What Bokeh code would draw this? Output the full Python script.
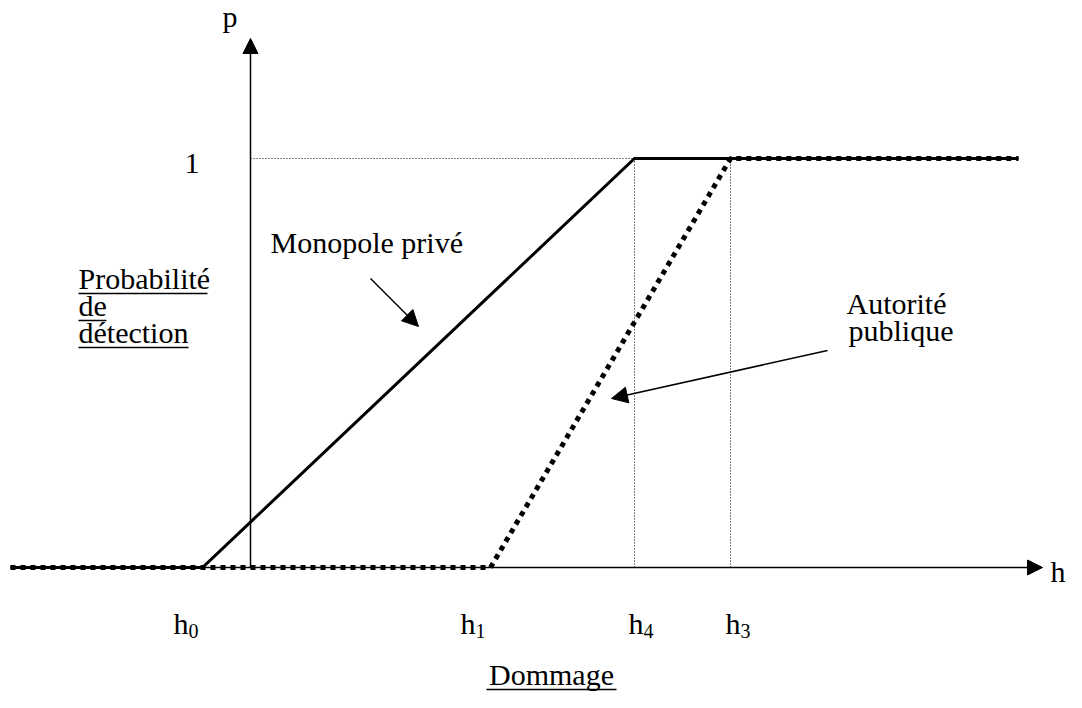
from bokeh.plotting import figure
from bokeh.models import Range1d, Arrow, NormalHead
from bokeh.embed import file_html
from bokeh.resources import INLINE
from bokeh.core.properties import value

# ---------------- data (schematic units: h along x, p along y) ----------------
h_names = ["h", "h", "h", "h"]
h_subs = ["0", "1", "4", "3"]
h0, h1, h4, h3 = -0.48, 2.40, 3.84, 4.80
h_min, h_max = -2.40, 7.68
monopole_h = [h_min, h0, h4, h_max]
monopole_p = [0.0, 0.0, 1.0, 1.0]
autorite_h = [h_min, h1, h3, h_max]
autorite_p = [0.0, 0.0, 1.0, 1.0]
y_label_lines = ["Probabilité", "de", "détection"]
autorite_lines = ["Autorité", "publique"]

# ---------------- layout helpers (reference pixel -> data) ----------------
W, H = 1066, 692
PX0, PY0 = 250.0, 567.0     # pixel position of origin
SX, SY = 100.0, 409.0       # pixels per unit


def X(px):
    return (px - PX0) / SX


def Y(py):
    return (PY0 - py) / SY


FONT = value("Liberation Serif")

p = figure(width=W, height=H, output_backend="svg", toolbar_location=None,
           x_range=Range1d(X(0), X(W)), y_range=Range1d(Y(H), Y(0)),
           x_axis_type=None, y_axis_type=None, min_border=0)
p.outline_line_color = None
p.grid.visible = False
p.background_fill_color = "white"
p.border_fill_color = "white"

# guide lines
p.line([0, h4], [1, 1], line_color="black", line_width=1, line_dash="1 2")
p.line([h4, h4], [0, 1], line_color="black", line_width=1, line_dash="1 2")
p.line([h3, h3], [0, 1], line_color="black", line_width=1, line_dash="1 2")

# axes with arrows
p.add_layout(Arrow(end=NormalHead(size=15, fill_color="black", line_color="black"),
                   x_start=h_min, y_start=0, x_end=X(1042), y_end=0,
                   line_width=1.5, line_color="black"))
p.add_layout(Arrow(end=NormalHead(size=15, fill_color="black", line_color="black"),
                   x_start=0, y_start=0, x_end=0, y_end=Y(38),
                   line_width=1.5, line_color="black"))

# curves
p.line(monopole_h, monopole_p, line_color="black", line_width=3, line_join="miter")
p.line(autorite_h, autorite_p, line_color="black", line_width=5, line_dash="5 5",
       line_cap="butt")

# annotation arrows
p.add_layout(Arrow(end=NormalHead(size=16, fill_color="black", line_color="black"),
                   x_start=X(370), y_start=Y(278), x_end=X(418), y_end=Y(326),
                   line_width=1.5, line_color="black"))
p.add_layout(Arrow(end=NormalHead(size=16, fill_color="black", line_color="black"),
                   x_start=X(827), y_start=Y(350), x_end=X(611), y_end=Y(398),
                   line_width=1.5, line_color="black"))


def txt(px, base, s, size=30, align="left"):
    # compensate the renderer's baseline offset (~0.35 em)
    py = base - 0.35 * size
    p.text(x=[X(px)], y=[Y(py)], text=[s], text_font=FONT,
           text_font_size=f"{size}px", text_align=align,
           text_baseline="alphabetic", text_color="black")


# axis labels
txt(222, 26, "p")
txt(1050, 581, "h")
txt(184, 173, "1")

# y label (underlined)
ylab_w = [129, 28, 110]
for i, s in enumerate(y_label_lines):
    by = 288 + 27 * i
    txt(78, by, s)
    p.segment(x0=[X(78)], y0=[Y(by + 5)], x1=[X(78 + ylab_w[i])], y1=[Y(by + 5)],
              line_color="black", line_width=1.5)

# curve labels
txt(270, 252, "Monopole privé")
txt(846, 313, autorite_lines[0])
txt(848, 340, autorite_lines[1])

# h tick labels with subscripts
h_label_left = [173, 460, 628, 725]
for name, sub, lx in zip(h_names, h_subs, h_label_left):
    txt(lx, 633, name)
    txt(lx + 15, 637, sub, size=20)

# x label (underlined)
txt(551, 684, "Dommage", align="center")
p.segment(x0=[X(486)], y0=[Y(689)], x1=[X(616)], y1=[Y(689)],
          line_color="black", line_width=1.5)

open("out.html", "w").write(file_html(p, INLINE))
